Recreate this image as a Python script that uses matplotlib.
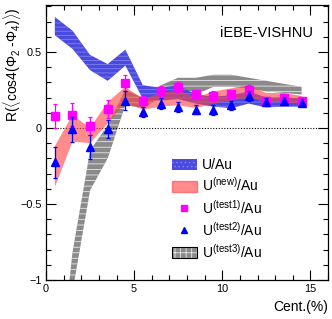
import matplotlib

matplotlib.use("Agg")
import matplotlib.pyplot as plt
from matplotlib.lines import Line2D
from matplotlib.patches import Patch
from matplotlib.ticker import MultipleLocator

plt.rcParams["font.family"] = ["Liberation Sans", "DejaVu Sans"]
plt.rcParams["mathtext.fontset"] = "custom"
plt.rcParams["mathtext.rm"] = "Liberation Sans"
plt.rcParams["mathtext.it"] = "Liberation Sans:italic"
plt.rcParams["hatch.linewidth"] = 0.6

cent = [0.5, 1.5, 2.5, 3.5, 4.5, 5.5, 6.5, 7.5, 8.5, 9.5, 10.5, 11.5, 12.5, 13.5, 14.5]

# U/Au band
uau_hi = [0.73, 0.64, 0.48, 0.42, 0.515, 0.28, 0.265, 0.28, 0.22, 0.206, 0.215, 0.24, 0.20, 0.20, 0.195]
uau_lo = [0.61, 0.52, 0.38, 0.31, 0.41, 0.19, 0.18, 0.19, 0.16, 0.14, 0.13, 0.16, 0.135, 0.14, 0.14]

# U(new)/Au band
new_hi = [-0.12, 0.085, 0.0, 0.17, 0.27, 0.19, 0.23, 0.25, 0.20, 0.24, 0.26, 0.28, 0.23, 0.23, 0.21]
new_lo = [-0.39, -0.09, -0.10, 0.03, 0.17, 0.12, 0.14, 0.15, 0.13, 0.16, 0.18, 0.20, 0.17, 0.17, 0.16]

# U(test1)/Au points
t1_val = [0.077, 0.088, 0.011, 0.123, 0.296, 0.175, 0.243, 0.27, 0.221, 0.21, 0.22, 0.25, 0.18, 0.195, 0.18]
t1_err = [0.08, 0.075, 0.06, 0.06, 0.05, 0.035, 0.035, 0.035, 0.03, 0.03, 0.03, 0.03, 0.025, 0.025, 0.025]

# U(test2)/Au points
t2_val = [-0.226, -0.01, -0.125, -0.005, 0.18, 0.105, 0.16, 0.138, 0.12, 0.118, 0.15, 0.21, 0.173, 0.18, 0.167]
t2_err = [0.10, 0.08, 0.08, 0.06, 0.06, 0.035, 0.035, 0.03, 0.03, 0.03, 0.03, 0.03, 0.025, 0.025, 0.025]

# U(test3)/Au band
t3_hi = [-1.9, -0.82, -0.15, 0.02, 0.25, 0.20, 0.28, 0.33, 0.33, 0.35, 0.35, 0.33, 0.31, 0.29, 0.27]
t3_lo = [-2.5, -1.08, -0.41, -0.20, 0.15, 0.13, 0.20, 0.23, 0.22, 0.27, 0.27, 0.26, 0.24, 0.23, 0.22]

BLUE = "#4a4ae0"
BLUE_HATCH = "#8080ee"
RED = "#ff4040"
GRAY = "#8a8a8a"


def main() -> None:
    fig = plt.figure(figsize=(3.32, 3.19), dpi=100)
    ax = fig.add_axes([0.1386, 0.1223, 0.8494, 0.8627])

    ax.fill_between(cent, t3_lo, t3_hi, facecolor=GRAY, edgecolor="#e8e8e8",
                    hatch="---", linewidth=0, zorder=1)
    ax.fill_between(cent, uau_lo, uau_hi, facecolor=BLUE, edgecolor=BLUE_HATCH,
                    hatch="----", linewidth=0, zorder=2)
    ax.fill_between(cent, new_lo, new_hi, facecolor=RED, alpha=0.6,
                    linewidth=0, zorder=3)

    ax.axhline(0, color="black", linestyle=(0, (1, 1.5)), linewidth=0.8, zorder=2.5)

    ax.errorbar(cent, t1_val, yerr=t1_err, fmt="s", color="#ff00ff", markersize=5.5,
                elinewidth=0.9, capsize=1.5, capthick=0.9, zorder=4)
    ax.errorbar(cent, t2_val, yerr=t2_err, fmt="^", color="#0000ff", markersize=5.5,
                elinewidth=0.9, capsize=1.5, capthick=0.9, zorder=5)

    ax.set_xlim(0, 16)
    ax.set_ylim(-1, 0.81)
    ax.xaxis.set_major_locator(MultipleLocator(5))
    ax.xaxis.set_minor_locator(MultipleLocator(1))
    ax.yaxis.set_minor_locator(MultipleLocator(0.1))
    ax.set_yticks([-1, -0.5, 0, 0.5])
    ax.set_yticklabels(["\u22121", "\u22120.5", "0", "0.5"])
    ax.tick_params(which="both", direction="in", top=True, right=True,
                   labelsize=7.8, width=0.8, pad=3)
    ax.tick_params(which="major", length=7)
    ax.tick_params(which="minor", length=3.5)
    for spine in ax.spines.values():
        spine.set_linewidth(0.9)

    ax.set_xlabel("Cent.(%)", fontsize=10, loc="right", labelpad=4)
    ax.set_ylabel("R($\\langle$cos4(\u03a6$_{2}$ -\u03a6$_{4}$)$\\rangle$)", fontsize=10,
                  loc="top", labelpad=0)
    ax.yaxis.set_label_coords(-0.082, 0.99)

    ax.text(0.945, 0.898, "iEBE-VISHNU", transform=ax.transAxes, fontsize=10.5,
            ha="right", va="center")

    h_uau = Patch(facecolor=BLUE, edgecolor=BLUE_HATCH, hatch="....", linewidth=0)
    h_new = Patch(facecolor=RED, alpha=0.6, edgecolor=RED, linewidth=1)
    h_t1 = Line2D([], [], marker="s", color="#ff00ff", linestyle="none", markersize=5)
    h_t2 = Line2D([], [], marker="^", color="#0000ff", linestyle="none", markersize=5)
    h_t3 = (Patch(facecolor=GRAY, edgecolor="#e8e8e8", hatch="+++", linewidth=0),
            Patch(facecolor="none", edgecolor="black", linewidth=0.8))
    ax.legend(
        [h_uau, h_new, h_t1, h_t2, h_t3],
        ["U/Au", "U$^{\\mathrm{(new)}}$/Au", "U$^{\\mathrm{(test1)}}$/Au",
         "U$^{\\mathrm{(test2)}}$/Au", "U$^{\\mathrm{(test3)}}$/Au"],
        loc="upper left", bbox_to_anchor=(0.445, 0.443), frameon=False,
        fontsize=10, handlelength=1.8, handleheight=0.9, labelspacing=0.3,
        handletextpad=0.4, borderpad=0, borderaxespad=0,
    )

    fig.savefig("out.png", dpi=100)


if __name__ == "__main__":
    main()
